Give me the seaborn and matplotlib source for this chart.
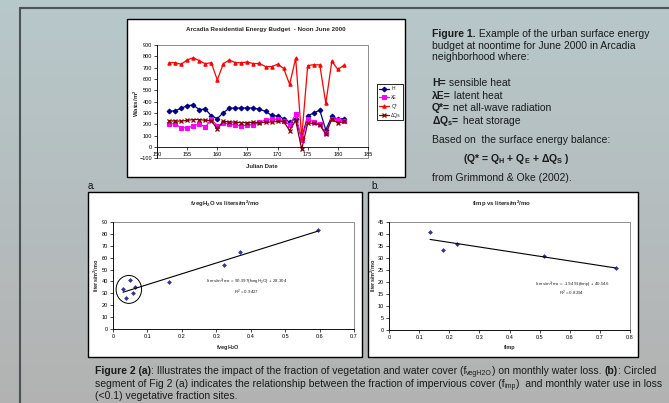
import numpy as np
import pandas as pd
import matplotlib
matplotlib.use("Agg")
import matplotlib.pyplot as plt
import seaborn as sns
from matplotlib.patches import Rectangle, Ellipse
from matplotlib.lines import Line2D

# ---------------- data ----------------
julian_day = list(range(152, 182))
q_star = [744, 744, 730, 768, 788, 762, 735, 744, 591, 735, 768, 744, 744, 750, 735,
          738, 709, 709, 730, 694, 553, 782, 82, 718, 726, 724, 385, 756, 685, 720]
h_flux = [315, 320, 341, 365, 370, 330, 335, 276, 250, 303, 341, 344, 344, 344, 344,
          332, 315, 279, 272, 250, 220, 250, 76, 275, 300, 325, 150, 270, 245, 250]
le_flux = [206, 203, 170, 170, 182, 206, 174, 245, 188, 209, 206, 191, 188, 194, 194,
           218, 238, 244, 244, 232, 195, 288, 59, 250, 218, 203, 120, 250, 235, 230]
dqs_flux = [230, 230, 228, 235, 242, 242, 235, 232, 160, 225, 222, 218, 215, 215, 218,
            215, 218, 220, 225, 225, 145, 235, -20, 210, 210, 195, 112, 250, 210, 225]
series_names = ["H", "λE", "Q*", "ΔQs"]

fveg = [0.029, 0.039, 0.048, 0.058, 0.063, 0.163, 0.322, 0.369, 0.596]
water_a = [33.4, 25.9, 41.0, 30.6, 35.7, 39.6, 53.5, 64.4, 83.6]
fimp = [0.136, 0.178, 0.225, 0.515, 0.752]
water_b = [41.0, 33.5, 35.8, 30.8, 25.9]

# ---------------- style ----------------
sns.set_style("white")
plt.rcParams["font.family"] = ["Liberation Sans", "DejaVu Sans"]
plt.rcParams["mathtext.fontset"] = "custom"
plt.rcParams["mathtext.rm"] = "Liberation Sans"
plt.rcParams["mathtext.bf"] = "Liberation Sans:bold"
plt.rcParams["mathtext.it"] = "Liberation Sans:italic"

W, H = 669, 403
fig = plt.figure(figsize=(W / 100, H / 100), dpi=100)

# background gradient
bg = fig.add_axes([0, 0, 1, 1], zorder=-10)
bg.axis("off")
top_c = np.array([0.72, 0.785, 0.795])
bot_c = np.array([0.70, 0.70, 0.70])
t = np.linspace(0, 1, 200)[:, None, None]
grad = top_c[None, None, :] * (1 - t) + bot_c[None, None, :] * t
bg.imshow(grad, aspect="auto", extent=[0, 1, 0, 1])
bg.set_xlim(0, 1)
bg.set_ylim(0, 1)

# frame lines
fc = "#4b5353"
fig.add_artist(Line2D([20 / W, 1], [1 - 8 / H, 1 - 8 / H], transform=fig.transFigure, color=fc, lw=1.5, zorder=-4))
fig.add_artist(Line2D([20 / W, 20 / W], [1 - 8 / H, 0], transform=fig.transFigure, color=fc, lw=1.5, zorder=-4))


def box(x0, y0, x1, y1):
    fig.add_artist(Rectangle((x0 / W, 1 - y1 / H), (x1 - x0) / W, (y1 - y0) / H,
                             transform=fig.transFigure, fc="white", ec="black", lw=1.0, zorder=-5))


def axes_px(x0, y0, x1, y1):
    return fig.add_axes([x0 / W, 1 - y1 / H, (x1 - x0) / W, (y1 - y0) / H])


def ftext(x, y, s, **kw):
    return fig.text(x / W, 1 - y / H, s, **kw)


def style_axes(ax):
    for sp in ["top", "right"]:
        ax.spines[sp].set_visible(False)
    ax.spines["left"].set_color("black")
    ax.spines["bottom"].set_color("black")
    ax.spines["left"].set_linewidth(0.6)
    ax.spines["bottom"].set_linewidth(0.6)
    ax.add_patch(Rectangle((0, 0), 1, 1, transform=ax.transAxes, fill=False,
                           ec="#8c8c8c", lw=0.7, clip_on=False, zorder=0.5))
    ax.tick_params(axis="both", labelsize=4, length=2, width=0.5, pad=1.5,
                   direction="out", bottom=True, left=True, colors="black")
    ax.set_xlabel("")
    ax.set_ylabel("")


# ---------------- top chart ----------------
box(127, 19, 405, 177)
ax1 = axes_px(157, 45, 368, 158.3)
specs = [
    (h_flux, "#000080", "D", 2.4, 0.8),
    (le_flux, "#ff00ff", "s", 2.8, 0.8),
    (q_star, "#ff0000", "^", 2.4, 0.8),
    (dqs_flux, "#800000", "x", 2.6, 0.9),
]
for (vals, col, mk, ms, mew), name in zip(specs, series_names):
    sns.lineplot(x=julian_day, y=vals, ax=ax1, color=col, marker=mk, markersize=ms,
                 markeredgecolor=col, markerfacecolor=col, markeredgewidth=mew,
                 lw=0.9, label=name)
ax1.set_xlim(150, 185)
ax1.set_ylim(-100, 900)
ax1.set_xticks(range(150, 186, 5))
ax1.set_yticks(range(-100, 901, 100))
style_axes(ax1)
ax1.spines["bottom"].set_position(("data", 0))
leg = ax1.legend(loc="center left", bbox_to_anchor=(377 / W, 1 - 102 / H),
                 bbox_transform=fig.transFigure, fontsize=3.6, frameon=True,
                 fancybox=False, edgecolor="black", framealpha=1, handlelength=1.9,
                 borderpad=0.45, labelspacing=0.75, handletextpad=0.5, borderaxespad=0)
leg.get_frame().set_linewidth(0.6)
ftext(266, 29, "Arcadia Residential Energy Budget  - Noon June 2000", fontsize=4.5,
      fontweight="bold", ha="center", va="center")
ftext(262, 167, "Julian Date", fontsize=4.3, fontweight="bold", ha="center", va="center")
ftext(136, 103, r"Watts/m$^{\mathregular{2}}$", fontsize=4.3, fontweight="bold",
      ha="center", va="center", rotation=90)

# ---------------- figure a ----------------
box(88, 192, 362, 357)
ax2 = axes_px(113, 222, 354, 329)
sns.regplot(x=fveg, y=water_a, ax=ax2, ci=None, marker="D",
            scatter_kws=dict(s=6, color="#000080", linewidths=0),
            line_kws=dict(color="black", lw=0.8))
ax2.set_xlim(0, 0.7)
ax2.set_ylim(0, 90)
ax2.set_xticks(np.arange(0, 0.71, 0.1))
ax2.set_xticklabels(["0", "0.1", "0.2", "0.3", "0.4", "0.5", "0.6", "0.7"])
ax2.set_yticks(range(0, 91, 10))
style_axes(ax2)
ax2.add_patch(Ellipse((0.046, 33.3), 0.074, 23.5, fill=False, ec="black", lw=0.7))
ax2.text(0.388, 39.5, r"liters/m$^{\mathregular{2}}$/mo = 90.997(fvegH$_{\mathregular{2}}$O) + 28.304",
         fontsize=3.2, ha="center", va="center")
ax2.text(0.388, 31.0, r"R$^{\mathregular{2}}$ = 0.9427", fontsize=3.2, ha="center", va="center")
ftext(225, 204, r"fvegH$_{\mathregular{2}}$O vs liters/m$^{\mathregular{2}}$/mo", fontsize=4.3,
      fontweight="bold", ha="center", va="center")
ftext(228, 348, r"fvegH$_{\mathregular{2}}$O", fontsize=4.0, fontweight="bold", ha="center", va="center")
ftext(96.5, 275, r"liters/m$^{\mathregular{2}}$/mo", fontsize=4.0, fontweight="bold",
      ha="center", va="center", rotation=90)

# ---------------- figure b ----------------
box(368, 192, 638, 357)
ax3 = axes_px(389, 222, 630, 330)
sns.regplot(x=fimp, y=water_b, ax=ax3, ci=None, marker="D",
            scatter_kws=dict(s=6, color="#000080", linewidths=0),
            line_kws=dict(color="black", lw=0.8))
ax3.set_xlim(0, 0.8)
ax3.set_ylim(0, 45)
ax3.set_xticks(np.arange(0, 0.81, 0.1))
ax3.set_xticklabels(["0", "0.1", "0.2", "0.3", "0.4", "0.5", "0.6", "0.7", "0.8"])
ax3.set_yticks(range(0, 46, 5))
style_axes(ax3)
ax3.text(0.607, 19.0, r"liters/m$^{\mathregular{2}}$/mo = -19.491(fimp) + 40.546",
         fontsize=3.2, ha="center", va="center")
ax3.text(0.607, 15.3, r"R$^{\mathregular{2}}$ = 0.8294", fontsize=3.2, ha="center", va="center")
ftext(502, 204, r"fimp vs liters/m$^{\mathregular{2}}$/mo", fontsize=4.3,
      fontweight="bold", ha="center", va="center")
ftext(510, 348, "fimp", fontsize=4.0, fontweight="bold", ha="center", va="center")
ftext(373, 275, r"liters/m$^{\mathregular{2}}$/mo", fontsize=4.0, fontweight="bold",
      ha="center", va="center", rotation=90)

ftext(88, 186, "a.", fontsize=7, ha="left", va="center", color="#111111")
ftext(371, 186, "b.", fontsize=7, ha="left", va="center", color="#111111")

# ---------------- text runs ----------------
renderer = fig.canvas.get_renderer()


def runs(x_px, y_px, parts, size=7.5, family=None):
    x = x_px
    for part in parts:
        s, weight = part[0], part[1]
        psize = part[2] if len(part) > 2 else size
        dy = part[3] if len(part) > 3 else 0.0
        kw = dict(fontsize=psize, fontweight=weight, ha="left", va="baseline", color="#1a1a1a")
        if family is not None:
            kw["family"] = family
        tx = fig.text(x / W, 1 - (y_px + dy) / H, s, **kw)
        bb = tx.get_window_extent(renderer=renderer)
        x = bb.x1


runs(432, 37, [("Figure 1.", "bold"), (" Example of the urban surface energy", "normal")])
runs(432, 48.7, [("budget at noontime for June 2000 in Arcadia", "normal")])
runs(432, 60.4, [("neighborhood where:", "normal")])
runs(432, 86, [("H=", "bold"), (" sensible heat", "normal")])
runs(432, 98.6, [("λE=", "bold"), (" latent heat", "normal")])
runs(432, 111.2, [("Q*=", "bold"), (" net all-wave radiation", "normal")])
runs(432, 123.6, [(r"ΔQ$_{\mathregular{s}}$=", "bold"), (" heat storage", "normal")])
runs(432, 142.6, [("Based on  the surface energy balance:", "normal")])
fig.text(516 / W, 1 - 162.2 / H,
         r"(Q* = Q$_{\mathregular{H}}$ + Q$_{\mathregular{E}}$ + ΔQ$_{\mathregular{S}}$ )",
         fontsize=7.5, fontweight="bold", ha="center", va="baseline", color="#1a1a1a")
runs(432, 181, [("from Grimmond & Oke (2002).", "normal")])

cap_family = ["Liberation Sans Narrow", "Liberation Sans"]
runs(95, 374.2, [("Figure 2 (a)", "bold"),
                 (": Illustrates the impact of the fraction of vegetation and water cover (f", "normal"),
                 ("vegH2O", "normal", 5.0, 1.2),
                 (") on monthly water loss. ", "normal"),
                 ("(b)", "bold"), (": Circled", "normal")], size=7.5, family=cap_family)
runs(95, 386.6, [("segment of Fig 2 (a) indicates the relationship between the fraction of impervious cover (f", "normal"),
                 ("imp", "normal", 5.0, 1.2),
                 (")  and monthly water use in loss", "normal")],
     size=7.5, family=cap_family)
runs(95, 399.0, [("(<0.1) vegetative fraction sites.", "normal")], size=7.5, family=cap_family)

fig.savefig("out.png", dpi=100)
